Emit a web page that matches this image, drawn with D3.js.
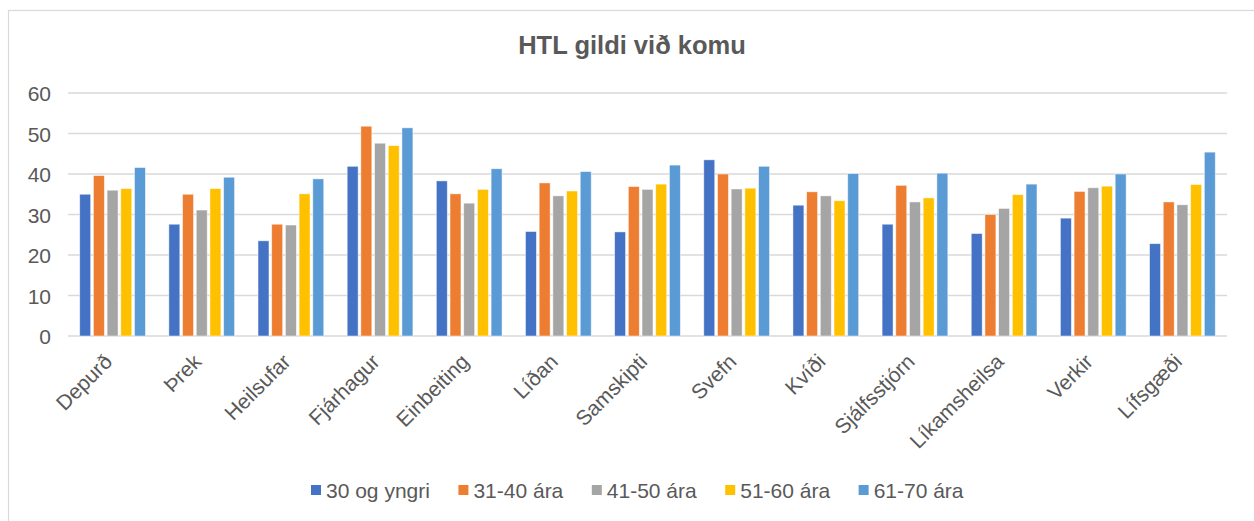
<!DOCTYPE html>
<html>
<head>
<meta charset="utf-8">
<script src="https://cdn.jsdelivr.net/npm/d3@7"></script>
<style>
  html, body { margin: 0; padding: 0; background: #fff; }
  svg { display: block; font-family: "Liberation Sans", Arial, sans-serif; }
</style>
</head>
<body>
<svg id="chart" width="1254" height="521"></svg>
<script>
const categories = ["Depurð","Þrek","Heilsufar","Fjárhagur","Einbeiting","Líðan","Samskipti","Svefn","Kvíði","Sjálfsstjórn","Líkamsheilsa","Verkir","Lífsgæði"];
const seriesNames = ["30 og yngri","31-40 ára","41-50 ára","51-60 ára","61-70 ára"];
const s30 = [35.0, 27.6, 23.5, 41.9, 38.3, 25.8, 25.7, 43.5, 32.3, 27.6, 25.3, 29.1, 22.8];
const s31 = [39.6, 35.0, 27.6, 51.8, 35.1, 37.8, 36.9, 40.0, 35.6, 37.2, 30.0, 35.7, 33.1];
const s41 = [36.0, 31.1, 27.4, 47.6, 32.8, 34.6, 36.2, 36.3, 34.6, 33.1, 31.5, 36.6, 32.4];
const s51 = [36.4, 36.4, 35.1, 47.0, 36.2, 35.8, 37.5, 36.5, 33.4, 34.1, 34.9, 37.0, 37.4];
const s61 = [41.6, 39.2, 38.8, 51.4, 41.3, 40.6, 42.2, 41.9, 40.1, 40.2, 37.5, 40.0, 45.4];
const yTicks = [0, 10, 20, 30, 40, 50, 60];
const title = "HTL gildi við komu";

const seriesValues = [s30, s31, s41, s51, s61];
const colors = ["#4472C4", "#ED7D31", "#A5A5A5", "#FFC000", "#5B9BD5"];
const textColor = "#595959";

const svg = d3.select("#chart");

// outer chart border
svg.append("rect")
  .attr("x", 8.5).attr("y", 10.5)
  .attr("width", 1260).attr("height", 530)
  .attr("fill", "none").attr("stroke", "#D9D9D9").attr("stroke-width", 1.2);

const plot = { left: 68, right: 1227, top: 93, bottom: 336 };

const x0 = d3.scaleBand().domain(categories).range([plot.left, plot.right]).padding(0);
const x1 = d3.scaleBand().domain(seriesNames).range([0, x0.bandwidth()])
  .paddingInner(0.2).paddingOuter(0.855);
const y = d3.scaleLinear().domain([0, 60]).range([plot.bottom, plot.top]);

// gridlines
svg.append("g").selectAll("line").data(yTicks).join("line")
  .attr("x1", plot.left).attr("x2", plot.right)
  .attr("y1", d => y(d)).attr("y2", d => y(d))
  .attr("stroke", "#D9D9D9").attr("stroke-width", 1.5);

// y axis labels via d3 axis
const yAxis = d3.axisLeft(y).tickValues(yTicks).tickSize(0).tickPadding(0).tickFormat(d3.format("d"));
const yg = svg.append("g").attr("transform", `translate(51,0)`).call(yAxis);
yg.select(".domain").remove();
yg.selectAll("text").attr("fill", textColor).style("font-size", "21px")
  .attr("dy", "0.36em").attr("x", 0);

// bars
const table = categories.map((c, i) => ({ cat: c, vals: seriesNames.map((s, j) => ({ s, j, v: seriesValues[j][i] })) }));
const groups = svg.append("g").selectAll("g").data(table).join("g")
  .attr("transform", d => `translate(${x0(d.cat)},0)`);
groups.selectAll("rect").data(d => d.vals).join("rect")
  .attr("x", d => x1(d.s))
  .attr("width", x1.bandwidth())
  .attr("y", d => y(d.v))
  .attr("height", d => y(0) - y(d.v))
  .attr("fill", d => colors[d.j])
  .attr("stroke", "#ffffff").attr("stroke-opacity", 0.6).attr("stroke-width", 0.8);

// x axis labels via d3 axis
const xAxis = d3.axisBottom(x0).tickSize(0).tickPadding(0);
const xg = svg.append("g").attr("transform", `translate(0,${plot.bottom})`).call(xAxis);
xg.select(".domain").remove();
xg.selectAll(".tick text")
  .attr("fill", textColor).style("font-size", "21px")
  .attr("text-anchor", "end")
  .attr("y", 0).attr("dy", 0)
  .attr("transform", "translate(1,27) rotate(-45)");

// title
svg.append("text")
  .attr("x", 632).attr("y", 54)
  .attr("text-anchor", "middle")
  .attr("fill", textColor)
  .style("font-size", "25.5px").style("font-weight", "bold")
  .text(title);

// legend
const legend = svg.append("g").attr("transform", "translate(311,0)");
const items = legend.selectAll("g").data(seriesNames).join("g");
items.append("rect").attr("width", 10).attr("height", 10).attr("y", 485)
  .attr("fill", (d, i) => colors[i]);
items.append("text").attr("x", 15).attr("y", 497.5)
  .attr("fill", textColor).style("font-size", "21px").text(d => d);
let cx = 0;
const gap = 28.5;
items.each(function() {
  const w = 15 + d3.select(this).select("text").node().getComputedTextLength();
  d3.select(this).attr("transform", `translate(${cx},0)`);
  cx += w + gap;
});
</script>
</body>
</html>
